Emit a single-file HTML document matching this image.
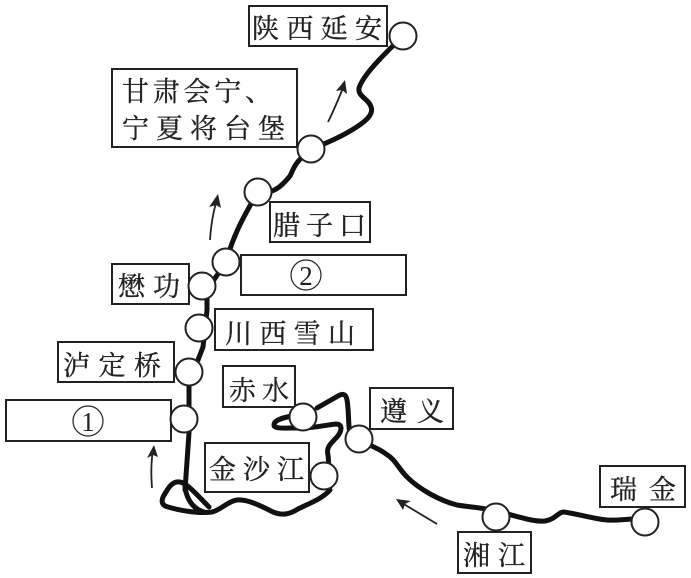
<!DOCTYPE html>
<html><head><meta charset="utf-8"><style>
html,body{margin:0;padding:0;background:#fff;width:691px;height:578px;overflow:hidden}
svg{display:block}
text{font-family:"Liberation Serif","Noto Serif CJK SC",serif;font-size:27px;fill:#222;stroke:#222;stroke-width:.35px}
</style></head><body>
<svg width="691" height="578" viewBox="0 0 691 578" xmlns="http://www.w3.org/2000/svg">
<rect width="691" height="578" fill="#fff"/>
<g fill="none" stroke="#111" stroke-width="5" stroke-linecap="round" stroke-linejoin="round">
<path d="M645 520C636 517 622 521 607 520C594 519 578 514 564 512C558 512 556 519 545 521C533 522 520 517 496 511C480 507 468 507 457 505C441 501 420 490 407 477C398 468 396 460 386 454C380 449 372 447 359 439"/>
<path d="M350 434C348 425 349 410 347 400C346 394 343 393 338 396L317 408"/>
<path d="M292 416C282 418 274 420 274 425C274 429 284 428 296 428C310 429 325 425 336 424C343 424 342 431 337 437C330 444 326 448 328 455C329 462 329 468 324 476"/>
<path d="M330 490C322 499 310 503 298 509C290 514 283 516 273 512C263 507 248 499 237 500C228 501 221 510 212 512C198 514 178 510 168 507C160 505 161 499 166 492C170 485 174 481 180 482C187 483 198 496 209 507"/>
<path d="M185 484C185 494 190 508 204 512"/>
<path d="M185 490L189 433L189 372L198 360L203 347L205 330L207 310L207 290L226 262C232 240 240 222 258 192"/>
<path d="M258 192C275 195 284 183 290 176C294 168 294 163 311 149"/>
<path d="M311 149C330 142 347 134 361 124C372 116 374 110 369 103C364 97 358 95 359 88C363 76 378 60 403 36"/>
</g>
<g fill="#fff" stroke="#222" stroke-width="2">
<rect x="249" y="6" width="138" height="40"/>
<rect x="112" y="69" width="185" height="78"/>
<rect x="270" y="202" width="100" height="40"/>
<rect x="241" y="255" width="165" height="40"/>
<rect x="112" y="264" width="77" height="40"/>
<rect x="215" y="309" width="158" height="41"/>
<rect x="58" y="342" width="116" height="40"/>
<rect x="6" y="400" width="165" height="41"/>
<rect x="223" y="366" width="72" height="41"/>
<rect x="370" y="388" width="83" height="41"/>
<rect x="205" y="443" width="104" height="49"/>
<rect x="600" y="466" width="85" height="41"/>
<rect x="458" y="532" width="73" height="41"/>
</g>
<g fill="#fff" stroke="#222" stroke-width="2">
<circle cx="403" cy="36" r="13.5"/>
<circle cx="311" cy="149" r="13.5"/>
<circle cx="258" cy="192" r="13.5"/>
<circle cx="226" cy="262" r="13.5"/>
<circle cx="202" cy="286" r="13.5"/>
<circle cx="199" cy="328" r="13.5"/>
<circle cx="189" cy="372" r="13.5"/>
<circle cx="184" cy="419" r="13.5"/>
<circle cx="303" cy="417" r="13.5"/>
<circle cx="359" cy="439" r="13.5"/>
<circle cx="324" cy="476" r="13.5"/>
<circle cx="496" cy="517" r="13.5"/>
<circle cx="645" cy="522" r="13.5"/>
</g>
<g fill="none" stroke="#222" stroke-width="1.8">
<path d="M152 488C151 475 151 462 153 450"/>
<path d="M210 240C211 225 213 212 217 200"/>
<path d="M328 122C334 110 338 100 343 88"/>
<path d="M437 524L402 503"/>
</g>
<g fill="#222">
<path d="M154 445L147 458L153 455L158 457Z"/>
<path d="M218 194L209 207L216 205L221 208Z"/>
<path d="M345 80L336 91L342 90L347 94Z"/>
<path d="M396 499L403 510L405 504L411 501Z"/>
</g>
<text x="252" y="38" textLength="130" lengthAdjust="spacing">陕西延安</text>
<text x="122" y="101" textLength="150" lengthAdjust="spacing">甘肃会宁、</text>
<text x="122" y="138" textLength="163" lengthAdjust="spacing">宁夏将台堡</text>
<text x="273" y="235" textLength="93" lengthAdjust="spacing">腊子口</text>
<text x="118" y="296" textLength="62" lengthAdjust="spacing">懋功</text>
<text x="225" y="343" textLength="130" lengthAdjust="spacing">川西雪山</text>
<text x="63" y="375" textLength="98" lengthAdjust="spacing">泸定桥</text>
<text x="229" y="400" textLength="60" lengthAdjust="spacing">赤水</text>
<text x="380" y="421" textLength="64" lengthAdjust="spacing">遵义</text>
<text x="209" y="479" textLength="95" lengthAdjust="spacing">金沙江</text>
<text x="610" y="499" textLength="66" lengthAdjust="spacing">瑞金</text>
<text x="463" y="565" textLength="62" lengthAdjust="spacing">湘江</text>
<g fill="none" stroke="#222" stroke-width="1.2">
<circle cx="88" cy="421" r="15"/>
<circle cx="306" cy="275" r="15"/>
</g>
<text x="88" y="431" text-anchor="middle" style="font-size:27px;stroke-width:0">1</text>
<text x="306" y="285" text-anchor="middle" style="font-size:27px;stroke-width:0">2</text>
</svg>
</body></html>
